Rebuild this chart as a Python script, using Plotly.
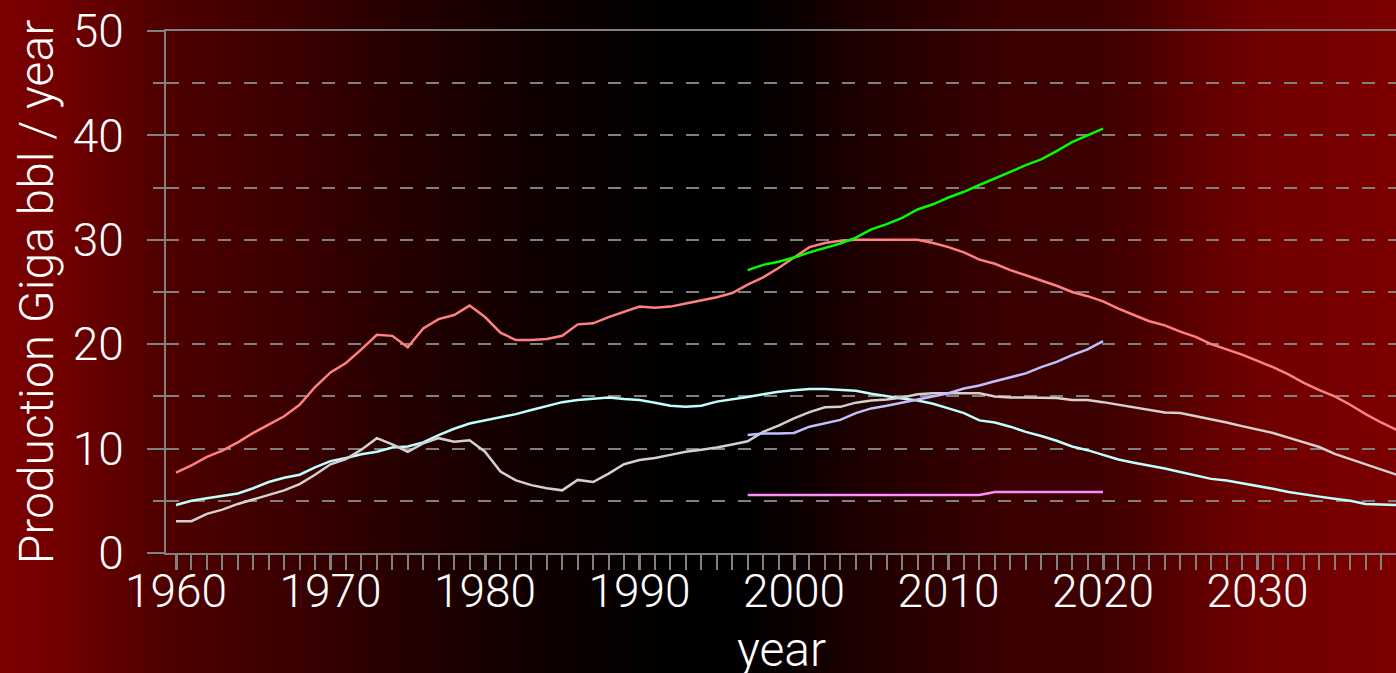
import base64
import plotly.graph_objects as go

# ---------------- data ----------------
years_all = list(range(1960, 2041))
years_new = list(range(1997, 2021))

red_vals = [7.7, 8.4, 9.2, 9.8, 10.6, 11.5, 12.3, 13.1, 14.2, 15.9,
            17.3, 18.2, 19.5, 20.9, 20.8, 19.7, 21.5, 22.4, 22.8, 23.7,
            22.6, 21.1, 20.4, 20.4, 20.5, 20.8, 21.9, 22.0, 22.6, 23.1,
            23.6, 23.5, 23.6, 23.9, 24.2, 24.5, 24.9, 25.7, 26.4, 27.3,
            28.3, 29.3, 29.7, 29.9, 30.0, 30.0, 30.0, 30.0, 30.0, 29.7,
            29.3, 28.8, 28.1, 27.7, 27.1, 26.6, 26.1, 25.6, 25.0, 24.6,
            24.1, 23.4, 22.8, 22.2, 21.8, 21.2, 20.7, 20.0, 19.5, 19.0,
            18.4, 17.8, 17.1, 16.3, 15.6, 15.0, 14.2, 13.3, 12.5, 11.8,
            11.1]

cyan_vals = [4.6, 5.0, 5.25, 5.45, 5.7, 6.2, 6.8, 7.2, 7.5, 8.2,
             8.8, 9.1, 9.45, 9.7, 10.1, 10.2, 10.6, 11.3, 11.9, 12.4,
             12.7, 13.0, 13.3, 13.7, 14.1, 14.45, 14.65, 14.8, 14.9, 14.75,
             14.65, 14.4, 14.1, 14.0, 14.1, 14.5, 14.7, 14.95, 15.2, 15.45,
             15.6, 15.7, 15.7, 15.6, 15.55, 15.25, 15.0, 14.8, 14.6, 14.3,
             13.85, 13.4, 12.7, 12.5, 12.1, 11.6, 11.2, 10.75, 10.2, 9.85,
             9.4, 8.95, 8.65, 8.4, 8.1, 7.75, 7.45, 7.1, 6.95, 6.7,
             6.4, 6.15, 5.85, 5.6, 5.4, 5.2, 5.0, 4.7, 4.65, 4.6,
             4.55]

gray_vals = [3.05, 3.05, 3.75, 4.15, 4.7, 5.15, 5.55, 6.0, 6.6, 7.5,
             8.5, 9.0, 9.9, 11.0, 10.4, 9.7, 10.5, 11.0, 10.65, 10.8,
             9.7, 7.8, 6.95, 6.5, 6.2, 6.0, 7.0, 6.8, 7.6, 8.5,
             8.9, 9.1, 9.4, 9.7, 9.9, 10.1, 10.4, 10.7, 11.6, 12.2,
             12.9, 13.5, 13.95, 14.0, 14.4, 14.6, 14.7, 14.9, 15.2, 15.3,
             15.3, 15.3, 15.3, 15.0, 14.9, 14.9, 14.9, 14.85, 14.65, 14.65,
             14.45, 14.2, 14.0, 13.7, 13.45, 13.4, 13.1, 12.85, 12.5, 12.15,
             11.8, 11.5, 11.05, 10.6, 10.15, 9.5, 9.0, 8.5, 8.0, 7.5,
             7.0]

green_vals = [27.1, 27.6, 27.9, 28.3, 28.8, 29.25, 29.65, 30.2, 31.0, 31.5,
              32.1, 32.9, 33.4, 34.05, 34.6, 35.25, 35.85, 36.5, 37.15, 37.7,
              38.5, 39.35, 40.0, 40.65]

lavender_vals = [11.3, 11.45, 11.45, 11.5, 12.1, 12.45, 12.75, 13.4, 13.85, 14.1,
                 14.4, 14.75, 15.0, 15.3, 15.75, 16.05, 16.45, 16.85, 17.2, 17.8,
                 18.3, 18.95, 19.5, 20.3]

magenta_vals = [5.55] * 16 + [5.85] * 8

x_title = "year"
y_title = "Production Giga bbl / year"

# ---------------- background gradient (decoration) ----------------
W, H = 1396, 673
stops = [(0, "#7c0000"), (60, "#720000"), (110, "#600000"), (160, "#500000"),
         (250, "#420000"), (290, "#3c0000"), (350, "#300000"), (430, "#200000"),
         (520, "#120000"), (600, "#080000"), (690, "#000000"), (740, "#000000"),
         (790, "#0a0000"), (860, "#1e0000"), (950, "#300000"), (1000, "#3a0000"),
         (1090, "#3c0000"), (1140, "#480000"), (1200, "#600000"), (1260, "#700000"),
         (1396, "#7c0000")]
stop_xml = "".join(
    f"<stop offset='{p / W:.4f}' stop-color='{c}'/>" for p, c in stops)
svg = (f"<svg xmlns='http://www.w3.org/2000/svg' width='{W}' height='{H}' "
       f"viewBox='0 0 {W} {H}' preserveAspectRatio='none'>"
       f"<defs><linearGradient id='g' x1='0' x2='1' y1='0' y2='0'>{stop_xml}"
       f"</linearGradient></defs><rect width='{W}' height='{H}' fill='url(#g)'/></svg>")
bg_src = "data:image/svg+xml;base64," + base64.b64encode(svg.encode()).decode()

ML, MR, MT, MB = 166, 0, 31, 120
PW, PH = W - ML - MR, H - MT - MB

# ---------------- figure ----------------
fig = go.Figure()
series = [
    (years_all, red_vals, "#ff8080"),
    (years_all, cyan_vals, "#c0ffff"),
    (years_all, gray_vals, "#d4d0d0"),
    (years_new, lavender_vals, "#c0c0ff"),
    (years_new, magenta_vals, "#ff8cff"),
    (years_new, green_vals, "#00ff00"),
]
for xs, ys, col in series:
    fig.add_trace(go.Scatter(x=xs, y=ys, mode="lines",
                             line=dict(color=col, width=2.5),
                             hoverinfo="x+y"))

font_family = "Roboto"
grid = "#808080"

fig.update_layout(
    width=W, height=H,
    margin=dict(l=ML, r=MR, t=MT, b=MB, pad=0, autoexpand=False),
    paper_bgcolor="#000000",
    plot_bgcolor="rgba(0,0,0,0)",
    showlegend=False,
    images=[dict(source=bg_src, xref="paper", yref="paper",
                 x=-ML / PW, y=1 + MT / PH, sizex=W / PW, sizey=H / PH,
                 xanchor="left", yanchor="top", sizing="stretch",
                 layer="below")],
    annotations=[dict(text=x_title, xref="paper", yref="paper",
                      x=0.5, y=(553 - 649.5) / PH,
                      xanchor="center", yanchor="middle", showarrow=False,
                      font=dict(family=font_family, size=48, color="white",
                                weight=300))],
    xaxis=dict(
        range=[1960 - 10 / 15.45, 1960 + 1220 / 15.45],
        tick0=1960, dtick=10, automargin=False,
        ticks="outside", ticklen=15, tickwidth=3, tickcolor=grid,
        showline=True, linecolor=grid, linewidth=2, mirror=True,
        showgrid=False, zeroline=False,
        ticklabelstandoff=-18,
        tickfont=dict(family=font_family, size=46, color="white", weight=300),
        minor=dict(tick0=1960, dtick=1, ticks="outside", ticklen=15,
                   tickwidth=2, tickcolor=grid, showgrid=False),
    ),
    yaxis=dict(
        range=[0, 50], tick0=0, dtick=10, automargin=False,
        ticks="outside", ticklen=17, tickwidth=2, tickcolor=grid,
        showline=True, linecolor=grid, linewidth=2, mirror=False,
        showgrid=True, gridcolor=grid, gridwidth=2, griddash="13px,13px",
        zeroline=False,
        ticklabelstandoff=14,
        tickfont=dict(family=font_family, size=46, color="white", weight=300),
        minor=dict(tick0=0, dtick=5, ticks="outside", ticklen=11, tickwidth=2,
                   tickcolor=grid, showgrid=True, gridcolor=grid, gridwidth=2,
                   griddash="13px,13px"),
        title=dict(text=y_title, standoff=4,
                   font=dict(family=font_family, size=48, color="white", weight=300)),
    ),
)

fig.write_html("out.html",
               config={"displayModeBar": False},
               post_script="document.body.style.margin='0';"
                           "document.body.style.overflow='hidden';")
